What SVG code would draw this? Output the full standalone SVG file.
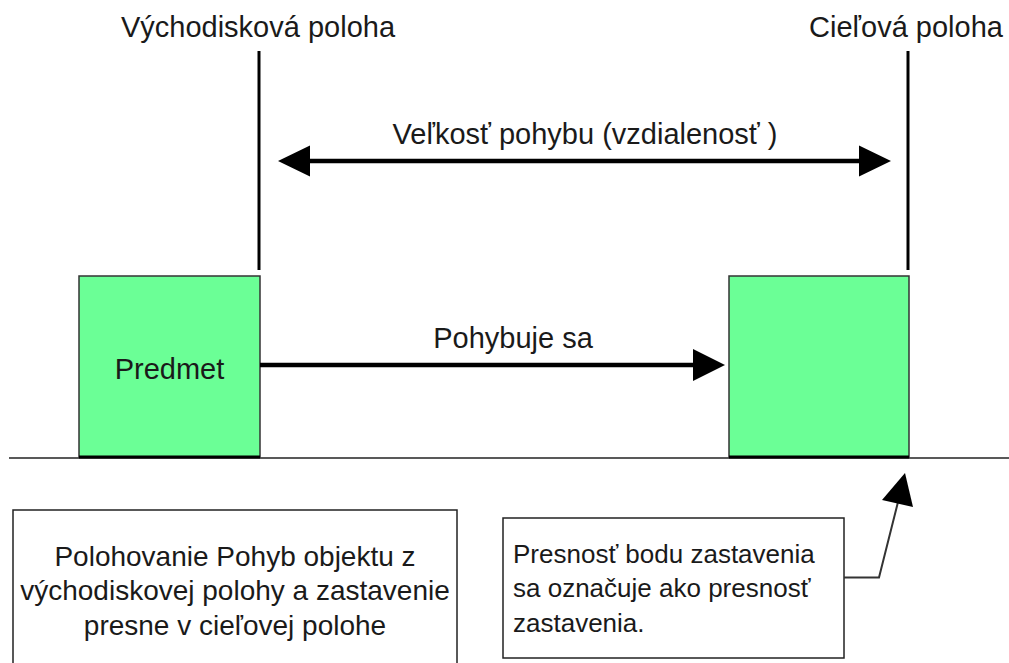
<svg xmlns="http://www.w3.org/2000/svg" width="1009" height="663" viewBox="0 0 1009 663">
<style>
text{font-family:"Liberation Sans",Arial,sans-serif;fill:#1a1a1a}
.lbl{font-size:29px;text-anchor:middle}
.box{fill:#6bff96;stroke:#333;stroke-width:1.5}
.note{fill:#fff;stroke:#222;stroke-width:1.5}
.guide{stroke:#000;stroke-width:3}
.thick{stroke:#000;stroke-width:4.5;fill:none}
.head{fill:#000}
</style>
<rect width="1009" height="663" fill="#fff"/>
<g id="guides">
<line class="guide" x1="259" y1="51" x2="259" y2="270"/>
<line class="guide" x1="908" y1="51" x2="908" y2="270"/>
<line x1="9" y1="458" x2="1009" y2="458" stroke="#222" stroke-width="1.5"/>
</g>
<g id="label-start"><text class="lbl" x="258" y="37">Východisková poloha</text></g>
<g id="label-target"><text class="lbl" x="906" y="37">Cieľová poloha</text></g>
<g id="label-distance"><text class="lbl" x="585" y="144">Veľkosť pohybu (vzdialenosť )</text></g>
<g id="node-predmet">
<rect class="box" x="79" y="276" width="181" height="181"/>
<line x1="79" y1="457" x2="260" y2="457" stroke="#000" stroke-width="3"/>
<text class="lbl" x="169.5" y="379">Predmet</text>
</g>
<g id="node-target">
<rect class="box" x="729" y="276" width="180" height="181"/>
<line x1="729" y1="457" x2="909" y2="457" stroke="#000" stroke-width="3"/>
</g>
<g id="node-note-left">
<rect class="note" x="13" y="510" width="444" height="170"/>
<text style="font-size:28px;text-anchor:middle" x="235"><tspan x="235" y="566">Polohovanie Pohyb objektu z</tspan><tspan x="235" y="600">východiskovej polohy a zastavenie</tspan><tspan x="235" y="635">presne v cieľovej polohe</tspan></text>
</g>
<g id="node-note-right">
<rect class="note" x="503" y="518" width="341" height="140"/>
<text style="font-size:26px" x="513"><tspan x="513" y="563">Presnosť bodu zastavenia</tspan><tspan x="513" y="597">sa označuje ako presnosť</tspan><tspan x="513" y="632">zastavenia.</tspan></text>
</g>
<g id="connectors">
<line class="thick" x1="308" y1="161" x2="861" y2="161" stroke-width="4"/>
<polygon class="head" points="278,161 310,145.5 310,176.5"/>
<polygon class="head" points="891,161 859,145.5 859,176.5"/>
<g id="label-move"><text class="lbl" x="513" y="348">Pohybuje sa</text></g>
<line class="thick" x1="260" y1="365" x2="695" y2="365" stroke-width="5"/>
<polygon class="head" points="725,365 693,349 693,381"/>
<polyline points="844,577.5 879,577.5 898,502" fill="none" stroke="#333" stroke-width="2"/>
<polygon class="head" points="905,473 882,500 913,507"/>
</g>
</svg>
